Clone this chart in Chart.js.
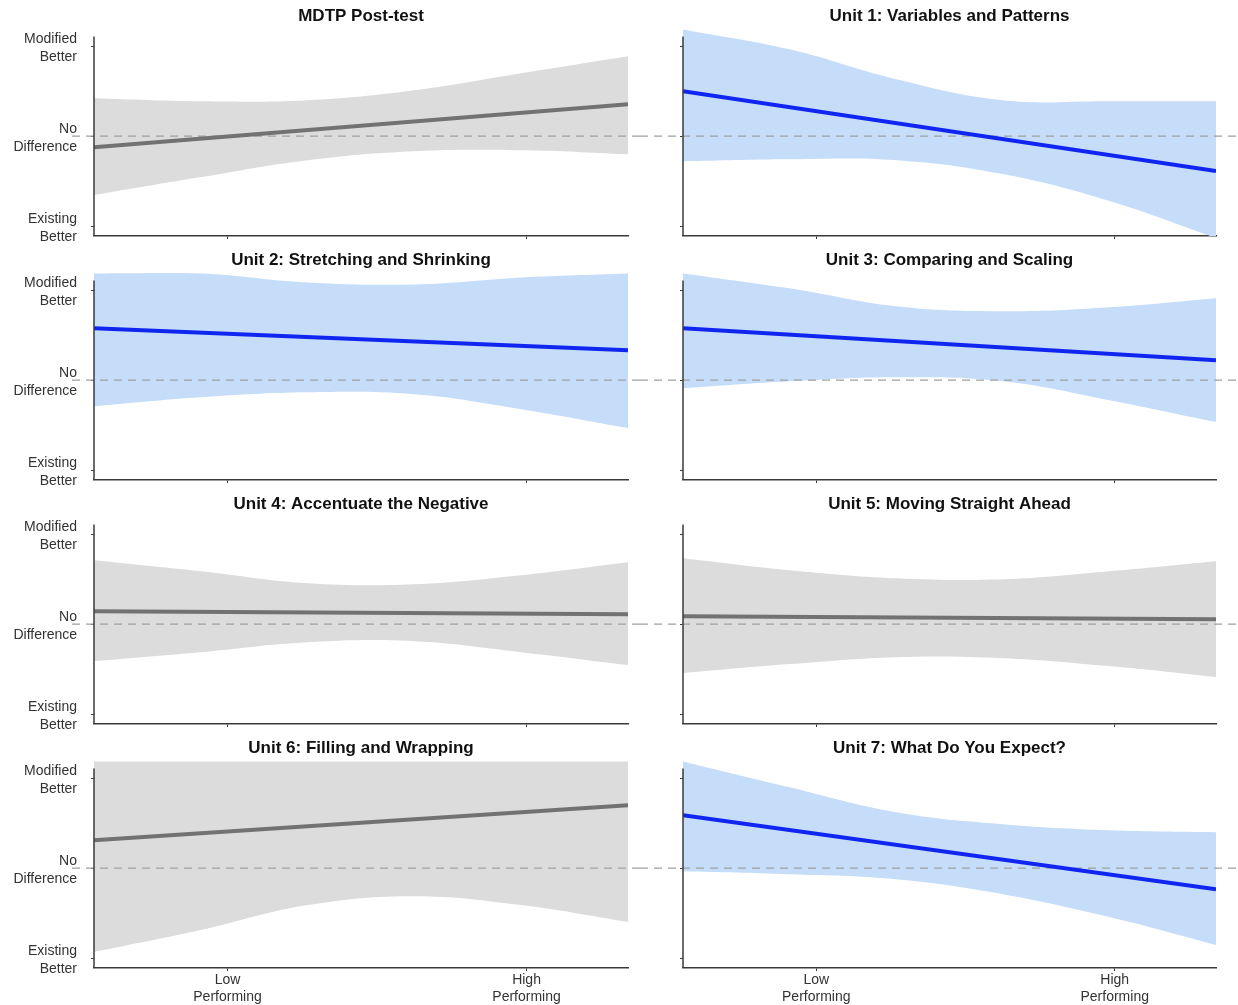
<!DOCTYPE html>
<html>
<head>
<meta charset="utf-8">
<script src="https://cdn.jsdelivr.net/npm/chart.js@4.4.1/dist/chart.umd.min.js"></script>
<style>
  html, body { margin: 0; padding: 0; background: #fff; }
  #wrap { position: relative; width: 1238px; height: 1005px; overflow: hidden; }
  .panel { position: absolute; }
</style>
</head>
<body>
<div id="wrap"></div>
<script>
// x positions of the sampled band edges, and the line end points
const bandX = [0, 2, 4, 6, 8, 10];
const lineX = [0, 10];

// tick labels
const xTickValues = [2.5, 8.1];
const xTickLabels = [['Low', 'Performing'], ['High', 'Performing']];
const yTickValues = [-0.9, 0, 0.9];
const yTickLabels = [['Existing', 'Better'], ['No', 'Difference'], ['Modified', 'Better']];

// MDTP Post-test
const mdtpLine = [-0.11, 0.32];
const mdtpUpper = [0.38, 0.35, 0.36, 0.46, 0.63, 0.80];
const mdtpLower = [-0.59, -0.41, -0.24, -0.15, -0.14, -0.18];

// Unit 1
const unit1Line = [0.45, -0.35];
const unit1Upper = [1.07, 0.87, 0.57, 0.36, 0.35, 0.35];
const unit1Lower = [-0.25, -0.23, -0.24, -0.38, -0.65, -1.02];

// Unit 2
const unit2Line = [0.52, 0.30];
const unit2Upper = [1.07, 1.07, 0.98, 0.96, 1.03, 1.07];
const unit2Lower = [-0.26, -0.17, -0.12, -0.14, -0.29, -0.48];

// Unit 3
const unit3Line = [0.52, 0.20];
const unit3Upper = [1.07, 0.92, 0.74, 0.69, 0.73, 0.82];
const unit3Lower = [-0.08, -0.01, 0.03, -0.01, -0.20, -0.42];

// Unit 4
const unit4Line = [0.13, 0.10];
const unit4Upper = [0.64, 0.53, 0.41, 0.40, 0.49, 0.62];
const unit4Lower = [-0.37, -0.28, -0.18, -0.17, -0.28, -0.41];

// Unit 5
const unit5Line = [0.08, 0.05];
const unit5Upper = [0.66, 0.54, 0.46, 0.45, 0.53, 0.63];
const unit5Lower = [-0.49, -0.40, -0.33, -0.34, -0.42, -0.53];

// Unit 6
const unit6Line = [0.28, 0.63];
const unit6Upper = [1.07, 1.07, 1.07, 1.07, 1.07, 1.07];
const unit6Lower = [-0.84, -0.62, -0.37, -0.28, -0.37, -0.54];

// Unit 7
const unit7Line = [0.53, -0.21];
const unit7Upper = [1.07, 0.81, 0.56, 0.44, 0.38, 0.36];
const unit7Lower = [-0.03, -0.06, -0.11, -0.26, -0.49, -0.77];

const panels = [
  { title: 'MDTP Post-test', line: mdtpLine, upper: mdtpUpper, lower: mdtpLower, blue: false },
  { title: 'Unit 1: Variables and Patterns', line: unit1Line, upper: unit1Upper, lower: unit1Lower, blue: true },
  { title: 'Unit 2: Stretching and Shrinking', line: unit2Line, upper: unit2Upper, lower: unit2Lower, blue: true },
  { title: 'Unit 3: Comparing and Scaling', line: unit3Line, upper: unit3Upper, lower: unit3Lower, blue: true },
  { title: 'Unit 4: Accentuate the Negative', line: unit4Line, upper: unit4Upper, lower: unit4Lower, blue: false },
  { title: 'Unit 5: Moving Straight Ahead', line: unit5Line, upper: unit5Upper, lower: unit5Lower, blue: false },
  { title: 'Unit 6: Filling and Wrapping', line: unit6Line, upper: unit6Upper, lower: unit6Lower, blue: false },
  { title: 'Unit 7: What Do You Expect?', line: unit7Line, upper: unit7Upper, lower: unit7Lower, blue: true }
];

const FONT = "'Liberation Sans', Arial, sans-serif";
const AXIS_COLOR = '#3a3a3a';

// dashed "no difference" line and the y axis line
const refLinesPlugin = {
  id: 'refLines',
  afterDatasetDraw(chart, args, opts) {
    if (args.index !== 1) return;
    const y = chart.scales.y.getPixelForValue(0);
    const ctx = chart.ctx;
    ctx.save();
    ctx.strokeStyle = '#a0a0a0';
    ctx.lineWidth = 1.3;
    ctx.setLineDash([8, 6]);
    ctx.beginPath();
    ctx.moveTo(opts.start, y);
    ctx.lineTo(chart.width, y);
    ctx.stroke();
    ctx.restore();
  },
  afterDatasetsDraw(chart) {
    const ys = chart.scales.y;
    const x = chart.chartArea.left;
    const ctx = chart.ctx;
    ctx.save();
    ctx.strokeStyle = AXIS_COLOR;
    ctx.lineWidth = 1.5;
    ctx.beginPath();
    ctx.moveTo(x, ys.getPixelForValue(1.0));
    ctx.lineTo(x, chart.chartArea.bottom);
    ctx.stroke();
    ctx.restore();
  }
};

const wrap = document.getElementById('wrap');

panels.forEach((p, i) => {
  const col = i % 2;
  const row = Math.floor(i / 2);
  const left = col === 0 ? 0 : 640;
  const width = col === 0 ? 640 : 598;
  const top = row * 244;
  const height = row === 3 ? 273 : 244;
  const bottomRow = row === 3;

  const div = document.createElement('div');
  div.className = 'panel';
  div.style.left = left + 'px';
  div.style.top = top + 'px';
  div.style.width = width + 'px';
  div.style.height = height + 'px';
  const canvas = document.createElement('canvas');
  canvas.width = width;
  canvas.height = height;
  div.appendChild(canvas);
  wrap.appendChild(div);

  const bandColor = p.blue ? 'rgb(198, 221, 250)' : 'rgb(220, 220, 220)';
  const lineColor = p.blue ? '#1026f0' : '#727272';

  new Chart(canvas.getContext('2d'), {
    type: 'line',
    data: {
      datasets: [
        {
          label: 'estimate',
          data: lineX.map((x, k) => ({ x: x, y: p.line[k] })),
          borderColor: lineColor,
          borderWidth: 4,
          pointRadius: 0,
          fill: false,
          order: 0
        },
        {
          label: 'upper',
          data: bandX.map((x, k) => ({ x: x, y: p.upper[k] })),
          borderWidth: 0,
          borderColor: 'rgba(0,0,0,0)',
          backgroundColor: bandColor,
          pointRadius: 0,
          tension: 0.4,
          fill: '+1',
          order: 1
        },
        {
          label: 'lower',
          data: bandX.map((x, k) => ({ x: x, y: p.lower[k] })),
          borderWidth: 0,
          borderColor: 'rgba(0,0,0,0)',
          pointRadius: 0,
          tension: 0.4,
          fill: false,
          order: 2
        }
      ]
    },
    options: {
      responsive: false,
      animation: false,
      devicePixelRatio: 1,
      layout: { padding: { left: 0, right: col === 0 ? 12 : 22, top: 0, bottom: 0 } },
      plugins: {
        legend: { display: false },
        tooltip: { enabled: false },
        title: {
          display: true,
          text: p.title,
          fullSize: false,
          color: '#111',
          font: { family: FONT, size: 17, weight: 'bold', lineHeight: 1.2 },
          padding: { top: 6, bottom: 2 }
        },
        refLines: { start: col === 0 ? 72 : 0 }
      },
      scales: {
        x: {
          type: 'linear',
          min: 0,
          max: 10,
          border: { display: true, color: AXIS_COLOR, width: 1.5 },
          grid: { display: true, drawOnChartArea: false, drawTicks: true, tickLength: 3, color: AXIS_COLOR },
          afterBuildTicks: (scale) => { scale.ticks = xTickValues.map(v => ({ value: v })); },
          ticks: {
            display: bottomRow,
            padding: 0,
            maxRotation: 0,
            autoSkip: false,
            color: '#333',
            font: { family: FONT, size: 14, lineHeight: 1.25 },
            callback: (v, idx) => xTickLabels[idx]
          },
          afterFit: (scale) => {
            scale.height = height - 236;
            scale.paddingLeft = 0;
            scale.paddingRight = 0;
          }
        },
        y: {
          type: 'linear',
          min: -1.0,
          max: 1.08,
          border: { display: false },
          grid: { display: true, drawOnChartArea: false, drawTicks: true, tickLength: 3, color: AXIS_COLOR },
          afterBuildTicks: (scale) => { scale.ticks = yTickValues.map(v => ({ value: v })); },
          ticks: {
            display: col === 0,
            padding: 14,
            labelOffset: 2,
            autoSkip: false,
            color: '#333',
            font: { family: FONT, size: 14, lineHeight: 1.25 },
            callback: (v, idx) => yTickLabels[idx]
          },
          afterFit: (scale) => {
            scale.width = col === 0 ? 94 : 43;
            scale.paddingTop = 0;
            scale.paddingBottom = 0;
          }
        }
      }
    },
    plugins: [refLinesPlugin]
  });
});
</script>
</body>
</html>
